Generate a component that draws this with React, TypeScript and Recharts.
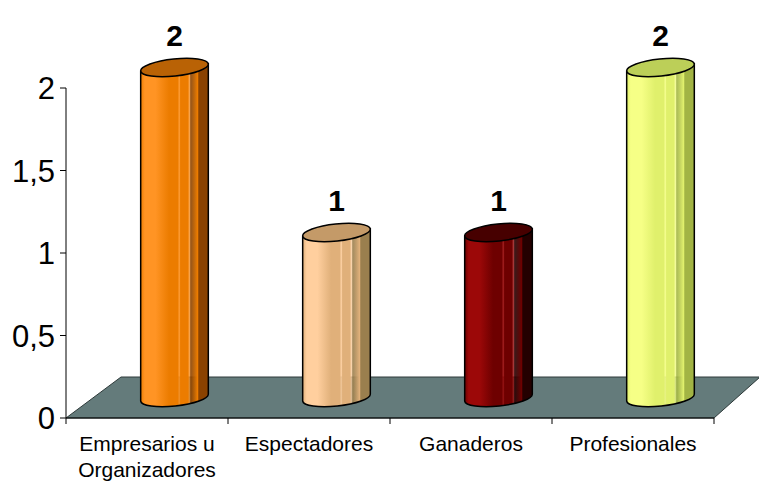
import React from "react";
import { BarChart, Bar, XAxis, YAxis } from "recharts";

// chart values
const categories = ["Empresarios u\nOrganizadores", "Espectadores", "Ganaderos", "Profesionales"];
const values = [2, 1, 1, 2];
const yTicks = [0, 0.5, 1, 1.5, 2];

// cylinder colours: left (lit) side, middle, right (shadow) side, top cap
const palette = [
  { light: "#ff9424", mid: "#ec7c00", dark: "#8a4200", top: "#b96205" },
  { light: "#ffcf9e", mid: "#e0b07a", dark: "#9a7f4e", top: "#c49a68" },
  { light: "#9c0808", mid: "#6e0000", dark: "#240000", top: "#470000" },
  { light: "#f6ff86", mid: "#e0f06c", dark: "#a2b444", top: "#bccf58" },
];

const data = categories.map((name, i) => ({ name, value: values[i] }));

const FONT = "'Liberation Sans', Arial, Helvetica, sans-serif";
const W = 759;
const H = 481;
const MARGIN = { top: 88, right: 45, bottom: 0, left: 0 };
const Y_AXIS_W = 66;
const X_AXIS_H = 63;
const PLOT_W = W - MARGIN.left - MARGIN.right - Y_AXIS_W;
const BAND = PLOT_W / categories.length;
// 3D depth of the floor (the bars sit half way back)
const DEPTH_X = 55;
const DEPTH_X_RIGHT = 46;
const DEPTH_Y = 41;

function Floor(props: any) {
  const { x, width, y, height, index } = props;
  if (index !== 0) return <g />;
  const left = x + width / 2 - BAND / 2;
  const right = left + BAND * categories.length;
  const base = y + height;
  const pts = `${left},${base} ${right},${base} ${right + DEPTH_X_RIGHT},${base - DEPTH_Y} ${left + DEPTH_X},${base - DEPTH_Y}`;
  return (
    <g>
      <polygon points={pts} fill="#647b7b" stroke="#2e3a3a" strokeWidth={1} />
      {categories.map((_, i) => (
        <line key={i} x1={left + i * BAND} y1={base} x2={left + i * BAND} y2={base + 6} stroke="#000" />
      ))}
      <line x1={right} y1={base} x2={right} y2={base + 6} stroke="#000" />
    </g>
  );
}

function Cylinder(props: any) {
  const { x, y, width, height, index, payload } = props;
  const c = palette[index % palette.length];
  const rx = width / 2;
  const ry = 8.5;
  const rot = -6;
  const cx = x + width / 2 + DEPTH_X / 2;
  const top = y - DEPTH_Y / 2;
  const bot = y + height - DEPTH_Y / 2;
  const rad = (rot * Math.PI) / 180;
  const ex = rx * Math.cos(rad);
  const ey = rx * Math.sin(rad);
  const body = `M${cx - ex},${top - ey} L${cx - ex},${bot - ey} A${rx},${ry} ${rot} 0 0 ${cx + ex},${bot + ey} L${cx + ex},${top + ey} Z`;
  const id = `cyl-${index}`;
  return (
    <g>
      <defs>
        <linearGradient id={id} x1="0" y1="0" x2="1" y2="0">
          <stop offset="0" stopColor={c.mid} />
          <stop offset="0.06" stopColor={c.light} />
          <stop offset="0.22" stopColor={c.light} />
          <stop offset="0.42" stopColor={c.mid} />
          <stop offset="0.55" stopColor={c.mid} />
          <stop offset="0.57" stopColor={c.light} stopOpacity={0.9} />
          <stop offset="0.59" stopColor={c.mid} />
          <stop offset="0.7" stopColor={c.mid} />
          <stop offset="0.72" stopColor={c.light} stopOpacity={0.8} />
          <stop offset="0.74" stopColor={c.dark} stopOpacity={0.9} />
          <stop offset="0.84" stopColor={c.mid} />
          <stop offset="0.86" stopColor={c.dark} />
          <stop offset="1" stopColor={c.dark} />
        </linearGradient>
      </defs>
      <path d={body} fill={`url(#${id})`} stroke="#000" strokeWidth={1.5} />
      <ellipse
        cx={cx}
        cy={top}
        rx={rx}
        ry={ry}
        transform={`rotate(${rot} ${cx} ${top})`}
        fill={c.top}
        stroke="#000"
        strokeWidth={1.5}
      />
      <text x={cx} y={top - ry - 13} textAnchor="middle" fontSize={30} fontWeight="bold" fontFamily={FONT} fill="#000">
        {payload.value}
      </text>
    </g>
  );
}

function CategoryTick(props: any) {
  const { x, y, payload } = props;
  const lines = String(payload.value).split("\n");
  return (
    <text x={x} y={y} textAnchor="middle" fontSize={21} fontFamily={FONT} fill="#000">
      {lines.map((line, i) => (
        <tspan key={i} x={x} y={y + 25 + i * 26}>
          {line}
        </tspan>
      ))}
    </text>
  );
}

export default function App() {
  return (
    <div style={{ position: "absolute", left: 0, top: 0, width: W, height: H, background: "#fff" }}>
      <BarChart width={W} height={H} data={data} margin={MARGIN} barSize={68}>
        <XAxis
          dataKey="name"
          height={X_AXIS_H}
          interval={0}
          tickLine={false}
          axisLine={{ stroke: "#000" }}
          tick={<CategoryTick />}
        />
        <YAxis
          width={Y_AXIS_W}
          domain={[0, 2]}
          ticks={yTicks}
          interval={0}
          tickFormatter={(v: number) => String(v).replace(".", ",")}
          tick={{ fontSize: 31, fill: "#000", fontFamily: FONT }}
          tickSize={6}
          tickMargin={5}
          axisLine={{ stroke: "#000" }}
          tickLine={{ stroke: "#000" }}
        />
        <Bar
          dataKey="value"
          isAnimationActive={false}
          background={(p: any) => <Floor {...p} />}
          shape={(p: any) => <Cylinder {...p} />}
        />
      </BarChart>
    </div>
  );
}
